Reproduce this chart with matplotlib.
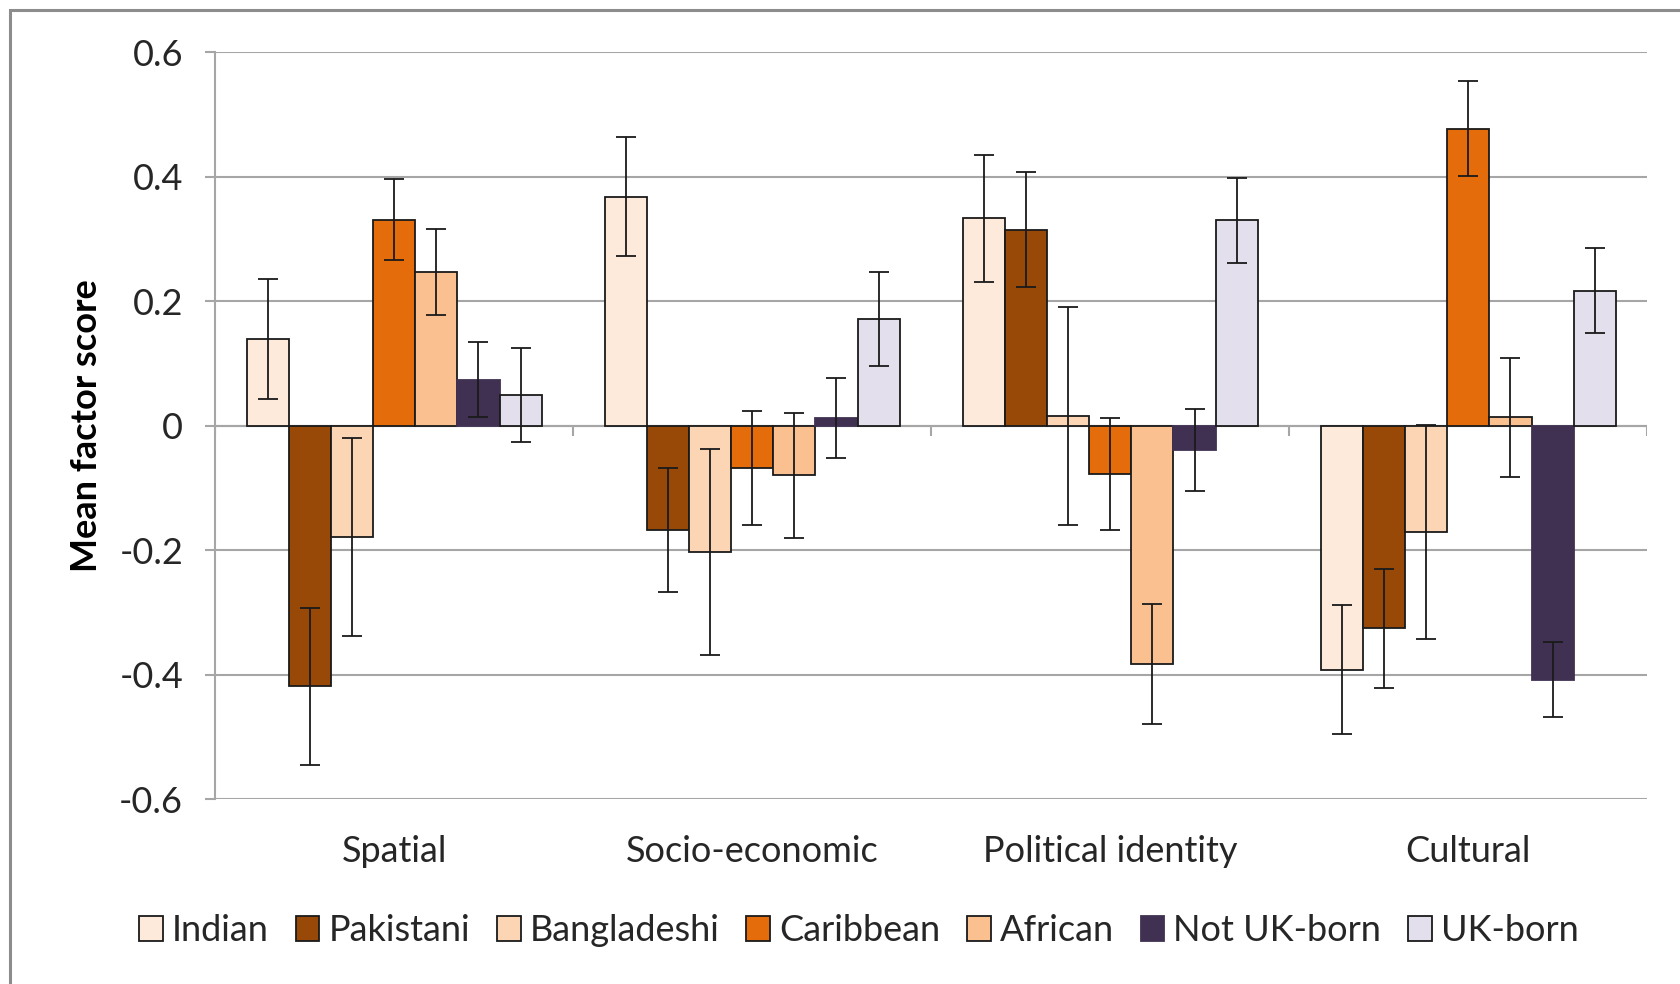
import numpy as np
import matplotlib
matplotlib.use("Agg")
import matplotlib.pyplot as plt
from matplotlib.patches import Rectangle

plt.rcParams['font.family'] = ['Lato', 'DejaVu Sans']

# data
factors = ['Spatial', 'Socio-economic', 'Political identity', 'Cultural']
groups = ['Indian', 'Pakistani', 'Bangladeshi', 'Caribbean', 'African',
          'Not UK-born', 'UK-born']

indian = [0.139, 0.368, 0.333, -0.392]
pakistani = [-0.419, -0.168, 0.315, -0.326]
bangladeshi = [-0.179, -0.203, 0.015, -0.171]
caribbean = [0.331, -0.068, -0.078, 0.477]
african = [0.247, -0.080, -0.383, 0.013]
not_uk_born = [0.074, 0.012, -0.039, -0.408]
uk_born = [0.049, 0.171, 0.330, 0.217]

indian_err = [0.096, 0.096, 0.102, 0.103]
pakistani_err = [0.126, 0.100, 0.093, 0.095]
bangladeshi_err = [0.159, 0.165, 0.175, 0.172]
caribbean_err = [0.065, 0.091, 0.090, 0.076]
african_err = [0.069, 0.101, 0.096, 0.095]
not_uk_born_err = [0.060, 0.064, 0.066, 0.061]
uk_born_err = [0.075, 0.075, 0.068, 0.069]

yticks = [-0.6, -0.4, -0.2, 0, 0.2, 0.4, 0.6]
ytick_labels = ['-0.6', '-0.4', '-0.2', '0', '0.2', '0.4', '0.6']

values = [indian, pakistani, bangladeshi, caribbean, african, not_uk_born, uk_born]
errors = [indian_err, pakistani_err, bangladeshi_err, caribbean_err,
          african_err, not_uk_born_err, uk_born_err]
colors = ['#FDEADA', '#984807', '#FCD5B5', '#E46C0A', '#FAC090', '#403152', '#E4DFEC']
edges = ['#1a1a1a', '#1a1a1a', '#1a1a1a', '#1a1a1a', '#1a1a1a', '#403152', '#1a1a1a']

fs = 26

fig = plt.figure(figsize=(16.81, 9.84), dpi=100)
ax = fig.add_axes([0.128, 0.188, 0.852, 0.759])

x = np.arange(len(factors))
w = 1 / 8.5
grid_col = '#A6A6A6'

for i, (vals, errs) in enumerate(zip(values, errors)):
    pos = x + (i - 3) * w
    ax.bar(pos, vals, w, color=colors[i], edgecolor=edges[i], linewidth=1.3,
           label=groups[i], zorder=3)
    ax.errorbar(pos, vals, yerr=errs, fmt='none', ecolor='#1a1a1a',
                elinewidth=1.3, capsize=7, capthick=1.3, zorder=4)

ax.set_xlim(-0.5, len(factors) - 0.5)
ax.set_ylim(-0.6, 0.6)
ax.set_yticks(yticks)
ax.set_yticklabels(ytick_labels)
ax.yaxis.grid(True, color=grid_col, linewidth=1.5, zorder=0)
ax.tick_params(axis='y', length=7, width=1.5, color=grid_col, pad=16,
               labelsize=fs, labelcolor='#262626')

# category axis sits at zero with boundary ticks
ax.axhline(0, color=grid_col, linewidth=1.5, zorder=2)
ax.vlines(np.arange(len(factors) + 1) - 0.5, -0.017, 0, color=grid_col,
          linewidth=1.5, zorder=2)
ax.set_xticks(x)
ax.set_xticklabels(factors)
ax.tick_params(axis='x', length=0, pad=26, labelsize=fs, labelcolor='#262626')

for s in ['top', 'right', 'bottom']:
    ax.spines[s].set_visible(False)
ax.spines['left'].set_color(grid_col)
ax.spines['left'].set_linewidth(1.5)

ax.set_ylabel('Mean factor score', fontsize=fs, fontweight='bold')
ax.yaxis.set_label_coords(-0.078, 0.5)

leg = fig.legend(loc='center', bbox_to_anchor=(0.511, 0.054), ncol=7,
                 frameon=False, fontsize=fs, handlelength=0.65, handleheight=0.7,
                 handletextpad=0.25, columnspacing=0.75)
for t in leg.get_texts():
    t.set_color('#262626')

# outer chart border
fig.patches.append(Rectangle((10 / 1681, -0.05), 1.1, 1 - 10 / 984 + 0.05,
                             transform=fig.transFigure, fill=False,
                             edgecolor='#8C8C8C', linewidth=2.2))

fig.savefig('out.png', dpi=100)
